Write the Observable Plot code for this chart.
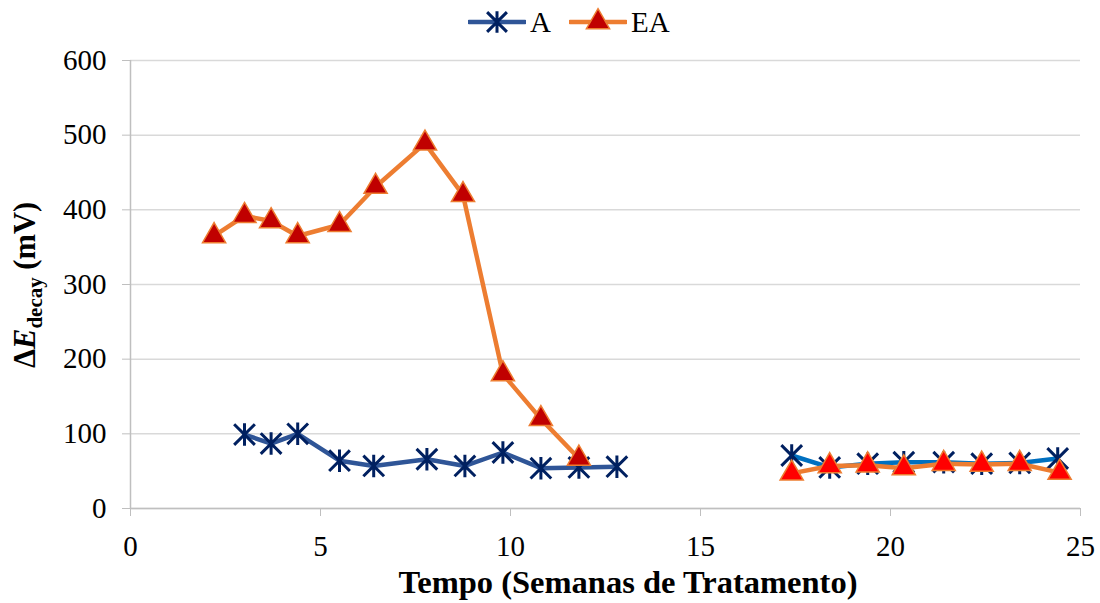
<!DOCTYPE html>
<html>
<head>
<meta charset="utf-8">
<script src="https://cdn.jsdelivr.net/npm/d3@7"></script>
<script src="https://cdn.jsdelivr.net/npm/@observablehq/plot@0.6"></script>
<style>
  body { margin: 0; background: white; font-family: "Liberation Serif", serif; }
  #legend { height: 44px; position: relative; }
  .item { position: absolute; top: 4px; display: flex; align-items: center; font-size: 29px; }
</style>
</head>
<body>
<div id="legend"></div>
<div id="chart"></div>
<script>
// ---- data ----
const weeksA1  = [3.0, 3.7, 4.4, 5.5, 6.4, 7.8, 8.8, 9.8, 10.8, 11.8, 12.8];
const valuesA1 = [99, 87, 100, 64, 57, 66, 57, 75, 54, 55, 56];
const weeksEA1  = [2.2, 3.0, 3.7, 4.4, 5.5, 6.45, 7.75, 8.75, 9.8, 10.8, 11.8];
const valuesEA1 = [365, 392, 385, 365, 380, 431, 489, 420, 180, 120, 67];
const weeksA2  = [17.4, 18.4, 19.4, 20.35, 21.4, 22.4, 23.4, 24.4];
const valuesA2 = [71, 55, 60, 62, 62, 60, 61, 67];
const weeksEA2  = [17.4, 18.4, 19.4, 20.35, 21.4, 22.4, 23.4, 24.45];
const valuesEA2 = [47, 57, 58, 54, 60, 59, 60, 48];
const xTicks = [0, 5, 10, 15, 20, 25];
const yTicks = [0, 100, 200, 300, 400, 500, 600];
const seriesNames = ["A", "EA"];

const toRows = (ws, vs) => ws.map((w, i) => ({week: w, value: vs[i]}));
const A1 = toRows(weeksA1, valuesA1);
const EA1 = toRows(weeksEA1, valuesEA1);
const A2 = toRows(weeksA2, valuesA2);
const EA2 = toRows(weeksEA2, valuesEA2);

// Excel-like star marker: vertical bar + X
const star = {
  draw(ctx, size) {
    const r = Math.sqrt(size / Math.PI) * 1.25;
    const d = r * 0.92;
    ctx.moveTo(0, -r); ctx.lineTo(0, r);
    ctx.moveTo(-d, -d); ctx.lineTo(d, d);
    ctx.moveTo(-d, d); ctx.lineTo(d, -d);
  }
};

const cBlue = "#2F5597", cBlue2 = "#0070C0", cNavy = "#002060";
const cOrange = "#ED7D31", cRed = "#C00000", cRed2 = "#FF0000";

const chart = Plot.plot({
  width: 1100,
  height: 559,
  marginLeft: 130,
  marginRight: 20,
  marginTop: 16,
  marginBottom: 95,
  x: {domain: [0, 25]},
  y: {domain: [0, 600]},
  style: {fontFamily: "Liberation Serif", fontSize: "29px", color: "black", background: "white"},
  marks: [
    Plot.gridY(yTicks, {stroke: "#d9d9d9", strokeOpacity: 1, strokeWidth: 1.5}),
    Plot.axisY(yTicks, {tickSize: 8, tickPadding: 16, stroke: "#bfbfbf", fill: "black", label: null, fontSize: 29}),
    Plot.axisX(xTicks, {tickSize: 8, tickPadding: 19, stroke: "#bfbfbf", fill: "black", label: null, fontSize: 29}),
    Plot.ruleX([0], {stroke: "#bfbfbf", strokeWidth: 1.5}),
    Plot.ruleY([0], {stroke: "#bfbfbf", strokeWidth: 1.5}),
    Plot.line(A1, {x: "week", y: "value", stroke: cBlue, strokeWidth: 4.5}),
    Plot.dot(A1, {x: "week", y: "value", symbol: star, r: 9, stroke: cNavy, strokeWidth: 3, fill: "none"}),
    Plot.line(A2, {x: "week", y: "value", stroke: cBlue2, strokeWidth: 4.5}),
    Plot.dot(A2, {x: "week", y: "value", symbol: star, r: 9, stroke: cNavy, strokeWidth: 3, fill: "none"}),
    Plot.line(EA1, {x: "week", y: "value", stroke: cOrange, strokeWidth: 4.5}),
    Plot.dot(EA1, {x: "week", y: "value", symbol: "triangle", r: 8.6, fill: cRed, stroke: cOrange, strokeWidth: 1.5}),
    Plot.line(EA2, {x: "week", y: "value", stroke: cOrange, strokeWidth: 4.5}),
    Plot.dot(EA2, {x: "week", y: "value", symbol: "triangle", r: 8.6, fill: cRed2, stroke: cOrange, strokeWidth: 1.5})
  ]
});

const svg = d3.select(chart);
// y axis title
const yt = svg.append("text")
  .attr("transform", "translate(35,241) rotate(-90)")
  .attr("text-anchor", "middle")
  .attr("font-family", "Liberation Serif")
  .attr("font-weight", "bold")
  .attr("font-size", 30.5)
  .attr("fill", "black");
yt.append("tspan").text("Δ");
yt.append("tspan").attr("font-style", "italic").text("E");
yt.append("tspan").attr("font-size", 21).attr("dy", "0.35em").text("decay");
yt.append("tspan").attr("dy", "-0.24em").text(" (mV)");
// x axis title
svg.append("text")
  .attr("x", 628).attr("y", 549)
  .attr("text-anchor", "middle")
  .attr("font-family", "Liberation Serif")
  .attr("font-weight", "bold")
  .attr("font-size", 32.5)
  .attr("fill", "black")
  .text("Tempo (Semanas de Tratamento)");

document.getElementById("chart").appendChild(chart);

// legend
const legend = d3.select("#legend");
const legendSpec = [
  {name: seriesNames[0], line: cBlue, sym: star, fill: "none", stroke: cNavy, sw: 3, left: 468},
  {name: seriesNames[1], line: cOrange, sym: d3.symbolTriangle, fill: cRed, stroke: cOrange, sw: 1.5, left: 569}
];
legendSpec.forEach(s => {
  const item = legend.append("div").attr("class", "item").style("left", s.left + "px");
  const sv = item.append("svg").attr("width", 58).attr("height", 36);
  sv.append("line").attr("x1", 1).attr("x2", 57).attr("y1", 18).attr("y2", 18)
    .attr("stroke", s.line).attr("stroke-width", 4.5).attr("stroke-linecap", "round");
  sv.append("path").attr("transform", "translate(29,18)")
    .attr("d", d3.symbol(s.sym, Math.PI * 8.6 * 8.6)())
    .attr("fill", s.fill).attr("stroke", s.stroke).attr("stroke-width", s.sw);
  item.append("span").style("margin-left", "4px").text(s.name);
});
</script>
</body>
</html>
